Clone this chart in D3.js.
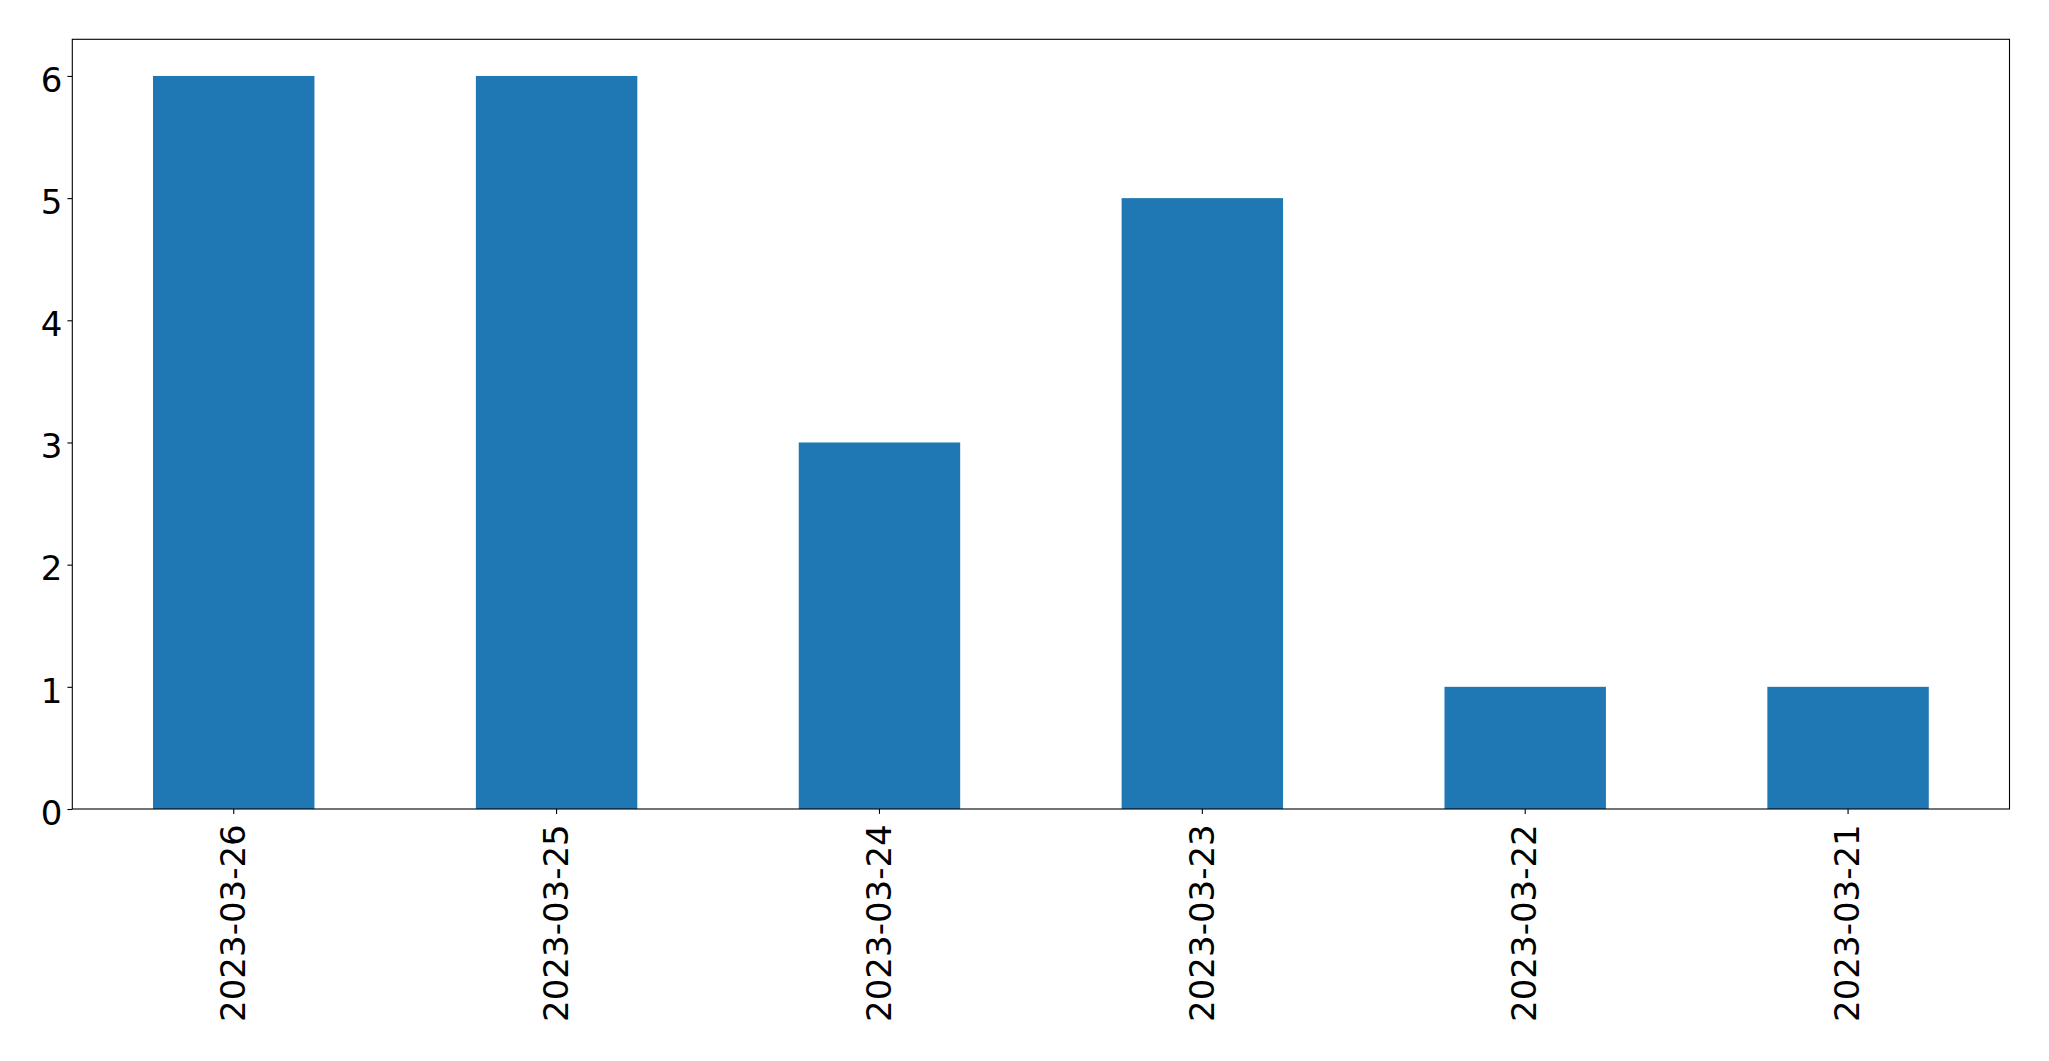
<!DOCTYPE html>
<html>
<head>
<meta charset="utf-8">
<script src="https://cdn.jsdelivr.net/npm/d3@7"></script>
<style>
  html, body { margin: 0; padding: 0; background: #fff; }
  svg { display: block; }
  text { font-family: "DejaVu Sans", sans-serif; fill: #000; }
</style>
</head>
<body>
<svg id="chart" width="2049" height="1061"></svg>
<script>
const categories = ["2023-03-26", "2023-03-25", "2023-03-24", "2023-03-23", "2023-03-22", "2023-03-21"];
const values = [6, 6, 3, 5, 1, 1];
const yTicks = [0, 1, 2, 3, 4, 5, 6];

const W = 2049, H = 1061;
const margin = { left: 72.3, right: W - 2009.5, top: 39.3, bottom: H - 809 };
const svg = d3.select("#chart");
const pw = W - margin.left - margin.right;
const ph = H - margin.top - margin.bottom;
const g = svg.append("g").attr("transform", `translate(${margin.left},${margin.top})`);

const x = d3.scaleBand().domain(categories).range([0, pw]).paddingInner(0.5).paddingOuter(0.25);
const y = d3.scaleLinear().domain([0, 6.3]).range([ph, 0]);

g.selectAll("rect.bar").data(categories).enter().append("rect")
  .attr("class", "bar")
  .attr("x", d => x(d))
  .attr("width", x.bandwidth())
  .attr("y", (d, i) => y(values[i]))
  .attr("height", (d, i) => y(0) - y(values[i]))
  .attr("fill", "#1f77b4");

const yAxis = g.append("g").call(d3.axisLeft(y).tickValues(yTicks).tickFormat(d3.format("d")).tickSize(4.9).tickPadding(5));
yAxis.select(".domain").remove();
yAxis.selectAll(".tick line").attr("stroke", "#000").attr("stroke-width", 1.1);
yAxis.selectAll(".tick text").attr("font-size", "34px").attr("font-family", "DejaVu Sans").attr("dy", "0.45em");

const xAxis = g.append("g").attr("transform", `translate(0,${ph})`)
  .call(d3.axisBottom(x).tickSize(4.9).tickPadding(0));
xAxis.select(".domain").remove();
xAxis.selectAll(".tick line").attr("stroke", "#000").attr("stroke-width", 1.1);
xAxis.selectAll(".tick text")
  .attr("font-size", "34px").attr("font-family", "DejaVu Sans")
  .attr("transform", "rotate(-90)")
  .attr("text-anchor", "end")
  .attr("x", -15.3).attr("y", 0).attr("dy", "0.33em");

g.append("rect").attr("x", 0).attr("y", 0).attr("width", pw).attr("height", ph)
  .attr("fill", "none").attr("stroke", "#000").attr("stroke-width", 1.1);
</script>
</body>
</html>
